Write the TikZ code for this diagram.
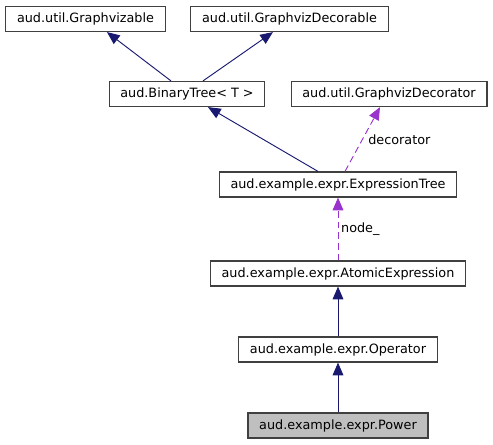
\documentclass[tikz,border=0pt]{standalone}
\usepackage{fontspec}
\setmainfont{DejaVu Sans}
\usepackage{tikz}
\usetikzlibrary{arrows.meta}
\definecolor{edgeblue}{HTML}{191970}
\definecolor{edgeorchid}{HTML}{9A32CD}
\definecolor{boxgrey}{HTML}{404040}
\definecolor{selfgrey}{HTML}{BFBFBF}

\begin{document}
\begin{tikzpicture}[x=0.75pt, y=-0.75pt, node distance={57pt},
        main/.style = {draw=boxgrey, line width=0.9pt, rectangle, fill=white,
            minimum height=18.75pt, inner xsep=8.4pt, inner ysep=0pt,
            font=\fontsize{9.6pt}{11pt}\selectfont},
        inherit/.style = {color=edgeblue, line width=0.7pt,
            -{Triangle[length=9.5pt, width=8pt]}},
        usage/.style = {color=edgeorchid, line width=0.7pt,
            dash pattern=on 5pt off 3pt,
            -{Triangle[length=9.5pt, width=8pt]}},
        lbl/.style = {text=black, font=\fontsize{9.6pt}{11pt}\selectfont, inner sep=2pt}]
            \useasboundingbox (0,0) rectangle (493,444);

            \node[main] (Gv) at (85.5,19) {aud.util.Graphvizable};
            \node[main] (GvDble) at (289.5,19) {aud.util.GraphvizDecorable};
            \node[main] (BT) at (187,94) {aud.BinaryTree< T >};
            \node[main] (GvDtor) at (389,94) {aud.util.GraphvizDecorator};
            \node[main] (ET) at (338,184.5) {aud.example.expr.ExpressionTree};
            \node[main] (AE) at (338,273.5) {aud.example.expr.AtomicExpression};
            \node[main] (Op) [below of=AE] {aud.example.expr.Operator};
            \node[main, fill=selfgrey] (Pow) [below of=Op] {aud.example.expr.Power};

            \path[inherit] ([xshift=-12pt]BT.north) edge ([xshift=16.1pt]Gv.south);
            \path[inherit] ([xshift=12pt]BT.north) edge ([xshift=-12.4pt]GvDble.south);
            \path[inherit] ([xshift=-15pt]ET.north) edge ([xshift=15.75pt]BT.south);

            \path[usage] ([xshift=5.25pt]ET.north) edge node[lbl, right, xshift=2pt] {decorator} ([xshift=-6.75pt]GvDtor.south);
            \path[usage] (AE) edge node[lbl, right] {node\_} (ET);

            \path[inherit] (Op) edge (AE);
            \path[inherit] (Pow) edge (Op);
        \end{tikzpicture}
\end{document}
